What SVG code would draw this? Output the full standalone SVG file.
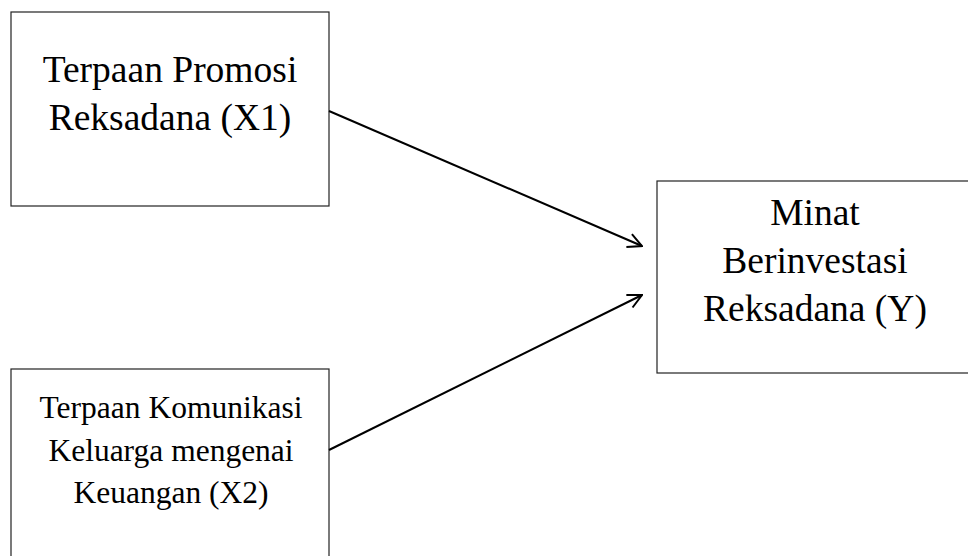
<svg xmlns="http://www.w3.org/2000/svg" width="968" height="556" viewBox="0 0 968 556">
<style>
.box{fill:#fff;stroke:#222;stroke-width:1.2}
.t{font-family:"Liberation Serif","Times New Roman",serif;fill:#000;text-anchor:middle}
.edge{stroke:#000;stroke-width:2;fill:none}
</style>
<defs>
<marker id="arr" viewBox="0 0 16 16" refX="15" refY="8" markerWidth="16" markerHeight="16" markerUnits="userSpaceOnUse" orient="auto">
<path d="M1 1 L15 8 L1 15" fill="none" stroke="#000" stroke-width="2"/>
</marker>
</defs>
<rect width="968" height="556" fill="#fff"/>
<g id="x1">
<rect class="box" x="11" y="12" width="318" height="194"/>
<text class="t" font-size="37.5" x="170" y="82">Terpaan Promosi</text>
<text class="t" font-size="37.5" x="170" y="130">Reksadana (X1)</text>
</g>
<g id="x2">
<rect class="box" x="11" y="369" width="318" height="200"/>
<text class="t" font-size="31.5" x="171" y="418">Terpaan Komunikasi</text>
<text class="t" font-size="31.5" x="171" y="461">Keluarga mengenai</text>
<text class="t" font-size="31.5" x="171" y="503">Keuangan (X2)</text>
</g>
<g id="y">
<rect class="box" x="657" y="181" width="320" height="192"/>
<text class="t" font-size="37.5" x="815" y="225">Minat</text>
<text class="t" font-size="37.5" x="815" y="273">Berinvestasi</text>
<text class="t" font-size="37.5" x="815" y="321">Reksadana (Y)</text>
</g>
<g id="connectors">
<line class="edge" x1="329" y1="111" x2="642" y2="246" marker-end="url(#arr)"/>
<line class="edge" x1="329" y1="450" x2="642" y2="295" marker-end="url(#arr)"/>
</g>
</svg>
